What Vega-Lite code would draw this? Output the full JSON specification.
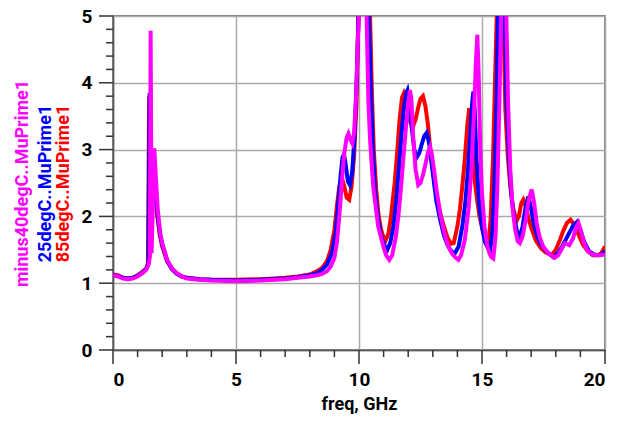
{
"$schema": "https://vega.github.io/schema/vega-lite/v6.json",
"width": 492, "height": 334,
"autosize": {"type": "none"},
"padding": {"left": 113, "top": 16, "right": 27, "bottom": 75},
"background": "white",
"config": {
  "view": {"stroke": "#555555", "strokeWidth": 1.5},
  "axis": {"labelFont": "Roboto", "labelFontWeight": "bold", "labelFontSize": 19, "labelColor": "black",
           "titleFont": "Roboto", "titleFontWeight": "bold", "titleFontSize": 18, "titleColor": "black",
           "domainColor": "#555555", "domainWidth": 1.5, "ticks": false, "gridColor": "#aaaaaa", "gridWidth": 1.5, "labelOverlap": false}
},
"datasets": {
  "curves": [
{"s":"r","f":0,"v":1.13},{"s":"r","f":0.2,"v":1.12},{"s":"r","f":0.4,"v":1.08},{"s":"r","f":0.6,"v":1.07},{"s":"r","f":0.8,"v":1.08},{"s":"r","f":1.0,"v":1.12},{"s":"r","f":1.2,"v":1.17},{"s":"r","f":1.35,"v":1.22},{"s":"r","f":1.42,"v":1.3},{"s":"r","f":1.47,"v":3.8},{"s":"r","f":1.51,"v":1.45},{"s":"r","f":1.6,"v":2.9},{"s":"r","f":1.7,"v":2.4},{"s":"r","f":1.8,"v":2.0},{"s":"r","f":1.9,"v":1.72},{"s":"r","f":2.0,"v":1.55},{"s":"r","f":2.2,"v":1.33},{"s":"r","f":2.4,"v":1.21},{"s":"r","f":2.6,"v":1.14},{"s":"r","f":2.8,"v":1.1},{"s":"r","f":3.0,"v":1.08},{"s":"r","f":3.5,"v":1.06},{"s":"r","f":4,"v":1.05},{"s":"r","f":5,"v":1.05},{"s":"r","f":6,"v":1.06},{"s":"r","f":7,"v":1.08},{"s":"r","f":7.5,"v":1.1},{"s":"r","f":8,"v":1.13},{"s":"r","f":8.3,"v":1.18},{"s":"r","f":8.5,"v":1.23},{"s":"r","f":8.7,"v":1.33},{"s":"r","f":8.85,"v":1.5},{"s":"r","f":9.0,"v":1.8},{"s":"r","f":9.1,"v":2.15},{"s":"r","f":9.2,"v":2.45},{"s":"r","f":9.3,"v":2.58},{"s":"r","f":9.4,"v":2.45},{"s":"r","f":9.5,"v":2.28},{"s":"r","f":9.6,"v":2.25},{"s":"r","f":9.7,"v":2.45},{"s":"r","f":9.8,"v":2.9},{"s":"r","f":9.9,"v":3.7},{"s":"r","f":9.97,"v":5.0},{"s":"r","f":10.1,"v":8},{"s":"r","f":10.3,"v":7},{"s":"r","f":10.45,"v":5.0},{"s":"r","f":10.52,"v":3.9},{"s":"r","f":10.6,"v":3.0},{"s":"r","f":10.7,"v":2.4},{"s":"r","f":10.8,"v":2.0},{"s":"r","f":10.9,"v":1.8},{"s":"r","f":11.0,"v":1.68},{"s":"r","f":11.08,"v":1.64},{"s":"r","f":11.2,"v":1.75},{"s":"r","f":11.3,"v":2.0},{"s":"r","f":11.45,"v":2.5},{"s":"r","f":11.55,"v":2.95},{"s":"r","f":11.65,"v":3.45},{"s":"r","f":11.75,"v":3.78},{"s":"r","f":11.82,"v":3.84},{"s":"r","f":11.9,"v":3.75},{"s":"r","f":12.0,"v":3.55},{"s":"r","f":12.1,"v":3.4},{"s":"r","f":12.2,"v":3.35},{"s":"r","f":12.3,"v":3.45},{"s":"r","f":12.4,"v":3.62},{"s":"r","f":12.5,"v":3.76},{"s":"r","f":12.6,"v":3.8},{"s":"r","f":12.7,"v":3.65},{"s":"r","f":12.8,"v":3.38},{"s":"r","f":12.9,"v":3.0},{"s":"r","f":13.0,"v":2.7},{"s":"r","f":13.1,"v":2.45},{"s":"r","f":13.2,"v":2.22},{"s":"r","f":13.3,"v":2.05},{"s":"r","f":13.45,"v":1.85},{"s":"r","f":13.6,"v":1.68},{"s":"r","f":13.75,"v":1.59},{"s":"r","f":13.85,"v":1.6},{"s":"r","f":14.0,"v":1.85},{"s":"r","f":14.1,"v":2.1},{"s":"r","f":14.2,"v":2.45},{"s":"r","f":14.3,"v":2.85},{"s":"r","f":14.4,"v":3.35},{"s":"r","f":14.48,"v":3.62},{"s":"r","f":14.53,"v":3.55},{"s":"r","f":14.6,"v":3.05},{"s":"r","f":14.7,"v":2.55},{"s":"r","f":14.8,"v":2.25},{"s":"r","f":14.9,"v":2.0},{"s":"r","f":15.05,"v":1.75},{"s":"r","f":15.15,"v":1.65},{"s":"r","f":15.26,"v":1.6},{"s":"r","f":15.35,"v":1.95},{"s":"r","f":15.45,"v":2.9},{"s":"r","f":15.52,"v":3.9},{"s":"r","f":15.6,"v":5.0},{"s":"r","f":15.7,"v":8},{"s":"r","f":15.8,"v":7},{"s":"r","f":15.87,"v":5.0},{"s":"r","f":15.95,"v":3.6},{"s":"r","f":16.05,"v":2.9},{"s":"r","f":16.15,"v":2.45},{"s":"r","f":16.25,"v":2.15},{"s":"r","f":16.4,"v":1.93},{"s":"r","f":16.5,"v":2.0},{"s":"r","f":16.6,"v":2.2},{"s":"r","f":16.68,"v":2.25},{"s":"r","f":16.78,"v":2.15},{"s":"r","f":16.9,"v":1.95},{"s":"r","f":17.05,"v":1.78},{"s":"r","f":17.2,"v":1.63},{"s":"r","f":17.4,"v":1.52},{"s":"r","f":17.6,"v":1.46},{"s":"r","f":17.83,"v":1.42},{"s":"r","f":18.0,"v":1.5},{"s":"r","f":18.15,"v":1.63},{"s":"r","f":18.3,"v":1.78},{"s":"r","f":18.45,"v":1.9},{"s":"r","f":18.6,"v":1.95},{"s":"r","f":18.75,"v":1.88},{"s":"r","f":18.9,"v":1.75},{"s":"r","f":19.1,"v":1.58},{"s":"r","f":19.3,"v":1.48},{"s":"r","f":19.5,"v":1.42},{"s":"r","f":19.7,"v":1.42},{"s":"r","f":19.85,"v":1.45},{"s":"r","f":20,"v":1.55},
{"s":"b","f":0,"v":1.12},{"s":"b","f":0.2,"v":1.11},{"s":"b","f":0.4,"v":1.08},{"s":"b","f":0.6,"v":1.07},{"s":"b","f":0.8,"v":1.08},{"s":"b","f":1.0,"v":1.11},{"s":"b","f":1.2,"v":1.16},{"s":"b","f":1.35,"v":1.21},{"s":"b","f":1.44,"v":1.3},{"s":"b","f":1.49,"v":3.85},{"s":"b","f":1.53,"v":1.45},{"s":"b","f":1.63,"v":2.95},{"s":"b","f":1.72,"v":2.45},{"s":"b","f":1.82,"v":2.0},{"s":"b","f":1.92,"v":1.72},{"s":"b","f":2.0,"v":1.58},{"s":"b","f":2.2,"v":1.34},{"s":"b","f":2.4,"v":1.21},{"s":"b","f":2.6,"v":1.14},{"s":"b","f":2.8,"v":1.1},{"s":"b","f":3.0,"v":1.08},{"s":"b","f":3.5,"v":1.06},{"s":"b","f":4,"v":1.05},{"s":"b","f":5,"v":1.04},{"s":"b","f":6,"v":1.05},{"s":"b","f":7,"v":1.07},{"s":"b","f":7.5,"v":1.09},{"s":"b","f":8,"v":1.12},{"s":"b","f":8.3,"v":1.15},{"s":"b","f":8.5,"v":1.2},{"s":"b","f":8.7,"v":1.28},{"s":"b","f":8.9,"v":1.45},{"s":"b","f":9.05,"v":1.75},{"s":"b","f":9.15,"v":2.15},{"s":"b","f":9.25,"v":2.6},{"s":"b","f":9.33,"v":2.88},{"s":"b","f":9.39,"v":2.93},{"s":"b","f":9.45,"v":2.8},{"s":"b","f":9.55,"v":2.52},{"s":"b","f":9.63,"v":2.47},{"s":"b","f":9.72,"v":2.65},{"s":"b","f":9.82,"v":3.2},{"s":"b","f":9.92,"v":4.2},{"s":"b","f":9.98,"v":5.0},{"s":"b","f":10.1,"v":8},{"s":"b","f":10.3,"v":7},{"s":"b","f":10.4,"v":5.0},{"s":"b","f":10.48,"v":3.9},{"s":"b","f":10.56,"v":3.0},{"s":"b","f":10.66,"v":2.35},{"s":"b","f":10.78,"v":1.95},{"s":"b","f":10.9,"v":1.7},{"s":"b","f":11.05,"v":1.55},{"s":"b","f":11.15,"v":1.5},{"s":"b","f":11.27,"v":1.6},{"s":"b","f":11.4,"v":1.85},{"s":"b","f":11.52,"v":2.25},{"s":"b","f":11.62,"v":2.7},{"s":"b","f":11.72,"v":3.2},{"s":"b","f":11.82,"v":3.6},{"s":"b","f":11.92,"v":3.85},{"s":"b","f":11.97,"v":3.89},{"s":"b","f":12.05,"v":3.7},{"s":"b","f":12.15,"v":3.3},{"s":"b","f":12.25,"v":3.0},{"s":"b","f":12.34,"v":2.88},{"s":"b","f":12.45,"v":2.95},{"s":"b","f":12.55,"v":3.08},{"s":"b","f":12.65,"v":3.2},{"s":"b","f":12.75,"v":3.25},{"s":"b","f":12.85,"v":3.1},{"s":"b","f":12.95,"v":2.8},{"s":"b","f":13.05,"v":2.5},{"s":"b","f":13.15,"v":2.22},{"s":"b","f":13.3,"v":1.95},{"s":"b","f":13.45,"v":1.72},{"s":"b","f":13.6,"v":1.57},{"s":"b","f":13.75,"v":1.48},{"s":"b","f":13.9,"v":1.45},{"s":"b","f":14.05,"v":1.55},{"s":"b","f":14.2,"v":1.85},{"s":"b","f":14.32,"v":2.2},{"s":"b","f":14.42,"v":2.65},{"s":"b","f":14.52,"v":3.2},{"s":"b","f":14.6,"v":3.7},{"s":"b","f":14.65,"v":3.87},{"s":"b","f":14.7,"v":3.6},{"s":"b","f":14.78,"v":2.85},{"s":"b","f":14.88,"v":2.2},{"s":"b","f":15.0,"v":1.85},{"s":"b","f":15.12,"v":1.62},{"s":"b","f":15.25,"v":1.52},{"s":"b","f":15.33,"v":1.5},{"s":"b","f":15.42,"v":1.75},{"s":"b","f":15.5,"v":2.4},{"s":"b","f":15.58,"v":3.5},{"s":"b","f":15.65,"v":5.0},{"s":"b","f":15.75,"v":8},{"s":"b","f":15.85,"v":7},{"s":"b","f":15.92,"v":5.0},{"s":"b","f":16.0,"v":3.7},{"s":"b","f":16.1,"v":2.85},{"s":"b","f":16.2,"v":2.3},{"s":"b","f":16.3,"v":2.0},{"s":"b","f":16.42,"v":1.78},{"s":"b","f":16.54,"v":1.7},{"s":"b","f":16.65,"v":1.85},{"s":"b","f":16.78,"v":2.15},{"s":"b","f":16.88,"v":2.3},{"s":"b","f":16.98,"v":2.15},{"s":"b","f":17.1,"v":1.9},{"s":"b","f":17.25,"v":1.7},{"s":"b","f":17.4,"v":1.58},{"s":"b","f":17.6,"v":1.48},{"s":"b","f":17.9,"v":1.39},{"s":"b","f":18.1,"v":1.45},{"s":"b","f":18.3,"v":1.58},{"s":"b","f":18.5,"v":1.72},{"s":"b","f":18.7,"v":1.86},{"s":"b","f":18.87,"v":1.92},{"s":"b","f":19.0,"v":1.8},{"s":"b","f":19.15,"v":1.62},{"s":"b","f":19.35,"v":1.48},{"s":"b","f":19.55,"v":1.43},{"s":"b","f":19.75,"v":1.42},{"s":"b","f":19.9,"v":1.44},{"s":"b","f":20,"v":1.48},
{"s":"m","f":0,"v":1.12},{"s":"m","f":0.2,"v":1.1},{"s":"m","f":0.4,"v":1.07},{"s":"m","f":0.6,"v":1.06},{"s":"m","f":0.8,"v":1.07},{"s":"m","f":1.0,"v":1.1},{"s":"m","f":1.2,"v":1.15},{"s":"m","f":1.35,"v":1.2},{"s":"m","f":1.45,"v":1.28},{"s":"m","f":1.5,"v":1.4},{"s":"m","f":1.53,"v":4.78},{"s":"m","f":1.57,"v":1.45},{"s":"m","f":1.64,"v":2.5},{"s":"m","f":1.68,"v":3.02},{"s":"m","f":1.74,"v":2.6},{"s":"m","f":1.82,"v":2.1},{"s":"m","f":1.92,"v":1.75},{"s":"m","f":2.0,"v":1.6},{"s":"m","f":2.2,"v":1.35},{"s":"m","f":2.4,"v":1.22},{"s":"m","f":2.6,"v":1.15},{"s":"m","f":2.8,"v":1.1},{"s":"m","f":3.0,"v":1.07},{"s":"m","f":3.5,"v":1.05},{"s":"m","f":4,"v":1.04},{"s":"m","f":5,"v":1.03},{"s":"m","f":6,"v":1.04},{"s":"m","f":7,"v":1.06},{"s":"m","f":7.5,"v":1.08},{"s":"m","f":8,"v":1.1},{"s":"m","f":8.3,"v":1.12},{"s":"m","f":8.5,"v":1.14},{"s":"m","f":8.7,"v":1.18},{"s":"m","f":8.85,"v":1.25},{"s":"m","f":9.0,"v":1.38},{"s":"m","f":9.1,"v":1.6},{"s":"m","f":9.2,"v":2.0},{"s":"m","f":9.3,"v":2.5},{"s":"m","f":9.4,"v":2.95},{"s":"m","f":9.5,"v":3.18},{"s":"m","f":9.57,"v":3.24},{"s":"m","f":9.65,"v":3.15},{"s":"m","f":9.73,"v":3.09},{"s":"m","f":9.8,"v":3.25},{"s":"m","f":9.87,"v":3.7},{"s":"m","f":9.95,"v":4.6},{"s":"m","f":10.0,"v":5.0},{"s":"m","f":10.1,"v":8},{"s":"m","f":10.2,"v":7},{"s":"m","f":10.31,"v":5.0},{"s":"m","f":10.38,"v":3.74},{"s":"m","f":10.45,"v":3.14},{"s":"m","f":10.58,"v":2.44},{"s":"m","f":10.78,"v":1.85},{"s":"m","f":10.99,"v":1.55},{"s":"m","f":11.1,"v":1.42},{"s":"m","f":11.23,"v":1.35},{"s":"m","f":11.35,"v":1.42},{"s":"m","f":11.5,"v":1.7},{"s":"m","f":11.6,"v":2.0},{"s":"m","f":11.7,"v":2.4},{"s":"m","f":11.8,"v":2.85},{"s":"m","f":11.9,"v":3.3},{"s":"m","f":12.0,"v":3.7},{"s":"m","f":12.07,"v":3.89},{"s":"m","f":12.13,"v":3.75},{"s":"m","f":12.2,"v":3.2},{"s":"m","f":12.3,"v":2.7},{"s":"m","f":12.41,"v":2.47},{"s":"m","f":12.5,"v":2.5},{"s":"m","f":12.6,"v":2.62},{"s":"m","f":12.7,"v":2.78},{"s":"m","f":12.8,"v":2.95},{"s":"m","f":12.89,"v":3.04},{"s":"m","f":12.95,"v":2.95},{"s":"m","f":13.05,"v":2.7},{"s":"m","f":13.15,"v":2.4},{"s":"m","f":13.3,"v":2.05},{"s":"m","f":13.45,"v":1.78},{"s":"m","f":13.6,"v":1.58},{"s":"m","f":13.75,"v":1.46},{"s":"m","f":13.9,"v":1.39},{"s":"m","f":14.04,"v":1.35},{"s":"m","f":14.15,"v":1.42},{"s":"m","f":14.3,"v":1.65},{"s":"m","f":14.45,"v":2.1},{"s":"m","f":14.57,"v":2.7},{"s":"m","f":14.67,"v":3.5},{"s":"m","f":14.75,"v":4.3},{"s":"m","f":14.81,"v":4.72},{"s":"m","f":14.86,"v":4.2},{"s":"m","f":14.93,"v":3.0},{"s":"m","f":15.0,"v":2.35},{"s":"m","f":15.1,"v":1.85},{"s":"m","f":15.2,"v":1.58},{"s":"m","f":15.3,"v":1.45},{"s":"m","f":15.38,"v":1.39},{"s":"m","f":15.46,"v":1.37},{"s":"m","f":15.55,"v":1.7},{"s":"m","f":15.62,"v":2.4},{"s":"m","f":15.7,"v":3.6},{"s":"m","f":15.78,"v":5.0},{"s":"m","f":15.87,"v":8},{"s":"m","f":15.93,"v":7},{"s":"m","f":15.99,"v":5.0},{"s":"m","f":16.06,"v":3.7},{"s":"m","f":16.15,"v":2.7},{"s":"m","f":16.25,"v":2.1},{"s":"m","f":16.35,"v":1.8},{"s":"m","f":16.45,"v":1.63},{"s":"m","f":16.54,"v":1.6},{"s":"m","f":16.65,"v":1.7},{"s":"m","f":16.78,"v":1.95},{"s":"m","f":16.9,"v":2.25},{"s":"m","f":17.02,"v":2.4},{"s":"m","f":17.12,"v":2.2},{"s":"m","f":17.22,"v":1.9},{"s":"m","f":17.35,"v":1.68},{"s":"m","f":17.5,"v":1.54},{"s":"m","f":17.7,"v":1.45},{"s":"m","f":17.96,"v":1.38},{"s":"m","f":18.1,"v":1.42},{"s":"m","f":18.25,"v":1.52},{"s":"m","f":18.37,"v":1.6},{"s":"m","f":18.55,"v":1.57},{"s":"m","f":18.7,"v":1.67},{"s":"m","f":18.82,"v":1.83},{"s":"m","f":18.92,"v":1.9},{"s":"m","f":19.02,"v":1.78},{"s":"m","f":19.15,"v":1.6},{"s":"m","f":19.3,"v":1.48},{"s":"m","f":19.5,"v":1.43},{"s":"m","f":19.75,"v":1.42},{"s":"m","f":20,"v":1.43}
  ],
  "xmajor": [{"t":0},{"t":5},{"t":10},{"t":15},{"t":20}],
  "xminor": [{"t":1},{"t":2},{"t":3},{"t":4},{"t":6},{"t":7},{"t":8},{"t":9},{"t":11},{"t":12},{"t":13},{"t":14},{"t":16},{"t":17},{"t":18},{"t":19}],
  "ymajor": [{"t":0},{"t":1},{"t":2},{"t":3},{"t":4},{"t":5}],
  "yminor": [{"t":0.2},{"t":0.4},{"t":0.6},{"t":0.8},{"t":1.2},{"t":1.4},{"t":1.6},{"t":1.8},{"t":2.2},{"t":2.4},{"t":2.6},{"t":2.8},{"t":3.2},{"t":3.4},{"t":3.6},{"t":3.8},{"t":4.2},{"t":4.4},{"t":4.6},{"t":4.8}]
},
"layer": [
  {"data": {"name": "curves"},
   "transform": [{"filter": "datum.s === 'r'"}],
   "mark": {"type": "line", "color": "#ff0000", "strokeWidth": 4, "clip": true},
   "encoding": {
     "x": {"field": "f", "type": "quantitative", "scale": {"domain": [0, 20], "nice": false},
           "axis": {"title": "freq, GHz", "orient": "bottom", "values": [0, 5, 10, 15, 20], "format": "d",
                    "grid": true, "labelPadding": 20, "titlePadding": 6}},
     "y": {"field": "v", "type": "quantitative", "scale": {"domain": [0, 5], "nice": false},
           "axis": {"title": "85degC..MuPrime1", "titleColor": "#ff0000", "orient": "left",
                    "values": [0, 1, 2, 3, 4, 5], "format": "d",
                    "grid": true, "labelPadding": 21, "titlePadding": 9}}
   }},
  {"data": {"name": "curves"},
   "transform": [{"filter": "datum.s === 'b'"}],
   "mark": {"type": "line", "color": "#0000ff", "strokeWidth": 4, "clip": true},
   "encoding": {
     "x": {"field": "f", "type": "quantitative", "axis": null},
     "y": {"field": "v", "type": "quantitative",
           "axis": {"title": "25degC..MuPrime1", "titleColor": "#0000ff", "orient": "left", "offset": 0,
                    "labels": false, "domain": false, "grid": false, "titlePadding": 59}}
   }},
  {"data": {"name": "curves"},
   "transform": [{"filter": "datum.s === 'm'"}],
   "mark": {"type": "line", "color": "#ff00ff", "strokeWidth": 4, "clip": true},
   "encoding": {
     "x": {"field": "f", "type": "quantitative", "axis": null},
     "y": {"field": "v", "type": "quantitative",
           "axis": {"title": "minus40degC..MuPrime1", "titleColor": "#ff00ff", "orient": "left", "offset": 0,
                    "labels": false, "domain": false, "grid": false, "titlePadding": 82}}
   }},
  {"data": {"name": "xmajor"},
   "mark": {"type": "rule", "strokeWidth": 1.5, "color": "#333333", "y2Offset": 14, "clip": false},
   "encoding": {"x": {"field": "t", "type": "quantitative", "axis": null}, "y": {"datum": 0, "type": "quantitative", "axis": null}, "y2": {"datum": 0}}},
  {"data": {"name": "xminor"},
   "mark": {"type": "rule", "strokeWidth": 1.5, "color": "#333333", "y2Offset": 7, "clip": false},
   "encoding": {"x": {"field": "t", "type": "quantitative", "axis": null}, "y": {"datum": 0, "type": "quantitative", "axis": null}, "y2": {"datum": 0}}},
  {"data": {"name": "ymajor"},
   "mark": {"type": "rule", "strokeWidth": 1.5, "color": "#333333", "x2Offset": -14, "clip": false},
   "encoding": {"y": {"field": "t", "type": "quantitative", "axis": null}, "x": {"datum": 0, "type": "quantitative", "axis": null}, "x2": {"datum": 0}}},
  {"data": {"name": "yminor"},
   "mark": {"type": "rule", "strokeWidth": 1.5, "color": "#333333", "x2Offset": -7, "clip": false},
   "encoding": {"y": {"field": "t", "type": "quantitative", "axis": null}, "x": {"datum": 0, "type": "quantitative", "axis": null}, "x2": {"datum": 0}}}
],
"resolve": {"axis": {"x": "independent", "y": "independent"}}
}
